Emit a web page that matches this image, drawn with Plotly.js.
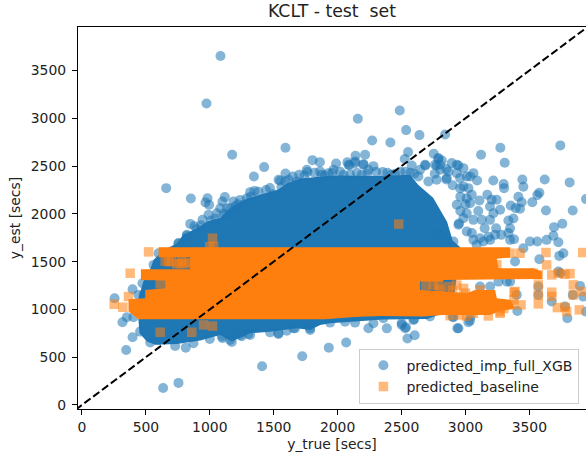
<!DOCTYPE html>
<html><head><meta charset="utf-8">
<script src="https://cdn.plot.ly/plotly-3.0.1.min.js"></script>
<style>html,body{margin:0;padding:0;background:#fff}#c{width:586px;height:459px}</style>
</head><body><div id="c"></div>
<script>
// Individually readable predicted_imp_full_XGB points [y_true, y_est]
const xgbPoints = [
[1084,3651],[974,3155],[1175,2618],[1592,2691],[1425,2489],[1345,2391],[1592,2422],[1550,2346],[659,2269],[852,2160],
[982,2164],[966,2118],[995,2094],[1118,2175],[1099,2129],[1185,2129],[1316,2227],[1350,2240],[990,1990],
[1055,2007],[1134,2059],[847,1895],[943,1937],[880,1870],[1238,2146],[1160,2059],[821,1780],[756,1693],[1499,2206],
[1616,2356],[1681,2338],[1290,2164],[1082,2059],[1264,2094],[1538,2356],
[900,1840],[930,1880],[1010,1930],[1045,1950],[1110,2000],[1130,1990],[1200,2080],[1220,2100],[1320,2180],[1380,2230],
[1440,2250],[1470,2270],[1560,2280],[1590,2340],[1650,2390],[1700,2410],[1740,2400],[1820,2430],[1900,2400],[1960,2430],
[2020,2440],[2150,2430],[2230,2420],[2300,2440],[2390,2430],[2450,2420],[2530,2440],[2570,2430],
[2158,2995],[2486,3082],[2536,2876],[2640,2824],[2270,2768],[2413,2747],[2841,2831],[2551,2646],[2525,2573],[2752,2629],
[3122,2618],[3273,2691],[3307,2534],[3742,2716],[1803,2562],[1861,2541],[1988,2527],[2140,2608],[2215,2618],[2077,2541],
[2093,2506],[2137,2531],[2202,2520],[2280,2499],[2353,2437],[1764,2437],[1876,2409],[1928,2426],[2098,2409],[2241,2461],
[2580,2506],[2687,2506],[2645,2461],[2775,2506],[2788,2573],[2815,2559],[2893,2531],[2945,2506],[2984,2478],[3062,2426],
[3036,2391],[3091,2349],[2710,2339],[3218,2349],[3299,2311],[3302,2269],[3445,2360],[3453,2283],[3620,2360],[3815,2329],
[3578,2220],[3562,2196],[3414,2178],[3440,2122],[3523,2122],[3354,2088],[3393,2060],[3427,2053],[3630,2035],[3839,2035],
[3943,2154],[3171,2199],[3109,2140],[3036,2112],[3205,2147],[3244,2147],[3192,2077],[3271,2042],[3219,2007],[3375,1952],
[3336,1931],[3758,1896],[3693,1861],[3349,1850],[2984,2287],[3023,2269],[3049,2199],[2958,2374],[2867,2444],[2850,2360],
[3010,2007],[3062,1937],[3128,1937],[3192,1937],[2900,2300],[2960,2180],[3000,2100],[2960,2030],[3100,2030],[3150,1850],
[3240,1850],[3280,1780],[3050,1800],[3180,1760],[2950,1900],[2760,2420],[2850,2470],[2600,2420],[2490,2440],[2420,2410],
[1759,2461],[2085,2513],[2137,2548],[2202,2513],[1863,2444],[1968,2461],[2046,2409],[2189,2409],[2684,2513],[2762,2513],
[2802,2513],[2632,2391],[2775,2356],[2854,2374],[2932,2426],[3010,2391],[2958,2269],[3010,2164],[2932,2095],[2984,1955],
[2945,1885],[3010,1815],[2854,1693],[2906,1711],[2788,1798],[2802,2461],[2932,2513],[2788,2583],
[255,1117],[317,866],[396,1211],[396,709],[346,576],[635,178],[755,231],[1409,405],[1723,510],[351,918],
[403,918],[455,768],[534,653],[729,618],[812,600],[872,646],[442,1152],[482,1152],[474,1274],[520,1270],[560,1466],[755,1693],
[820,1770],[599,1588],[1159,681],[1302,744],[1537,750],[1654,803],[1000,690],[1100,700],[1250,720],[600,680],
[1094,716],[1172,660],[1237,733],[1316,733],[1472,760],[1537,744],[1602,778],[1667,802],[1785,785],
[3388,1501],[3578,1525],[3505,1710],[3562,1710],[3635,1728],[3727,1703],[3688,1770],[3766,1588],[3734,1560],[3349,1728],
[3380,1735],[3336,1800],[3896,1246],[3840,1152],[3745,1379],[3401,1152],[3406,984],[3675,1082],[3570,1239],[3797,908],
[2945,803],[3036,883],[3040,925],[2906,918],[2546,695],[2603,730],[2241,803],[2280,855],[2385,802],[2502,838],
[2528,803],[2067,653],[1931,600],[1785,803],[1941,862],[2058,872],[2136,862],[2358,907],[2501,855],[2535,813],[2598,897],
[2723,925],[2593,890],[2900,924],[2937,802],[3023,866],
[3453,1640],[3193,1728],[3232,1780],[3114,1745],[3140,1710],[3062,1728],[3088,1675],[3114,1239],[3193,1239],[3258,1291],
[3323,1291],[3349,1291],[3779,1030],[3943,977],[3922,1134],[3727,1396],[3570,1152]
];
const xgbX = xgbPoints.map(p => p[0]);
const xgbY = xgbPoints.map(p => p[1]);

// Outline of the region where the XGB points overplot to solid colour
const xgbMassX = [442,450,508,573,742,925,1081,1172,1316,1472,1680,1785,1863,1941,2356,2700,2900,2960,2900,2856,2747,2630,2567,2332,1965,1707,1607,1527,1418,1293,1160,1082,980,902,792,742,640,560,534,480,442];
const xgbMassY = [890,751,664,629,639,674,733,663,750,767,802,785,837,855,895,900,1000,1650,1720,1916,2168,2304,2408,2395,2400,2370,2320,2250,2210,2160,2063,1958,1920,1853,1780,1693,1620,1519,1421,1290,1120];

// Individually readable predicted_baseline points [y_true, y_est]
const basePoints = [
[521,1602],[377,1379],[364,1135],[252,1054],[320,1023],[612,761],[859,761],[951,838],[1021,826],[1021,1745],
[1000,1655],[1030,1660],[677,1501],[651,1505],[700,1500],[742,1477],[770,1480],[780,1500],[807,1477],[840,1490],[612,1267],[2478,1892],
[3630,1595],[3917,1595],[3635,1466],[3427,1588],[3349,1588],[3245,1466],[3531,1379],[3570,1361],[3675,1361],[3727,1379],
[3779,1368],[3818,1375],[3570,1257],[3844,1257],[3388,1187],[3675,1180],[3675,1135],[3570,1152],[3844,1152],[3917,1187],
[3570,1058],[3435,1047],[3362,1047],[3719,1019],[3779,1023],[3792,977],[3891,995],[3179,932],[3271,977],[2958,942],
[3062,960],[3114,1204],[3300,1010],[3271,960],[3380,1180],[3380,1100],[3010,930],[2880,935],
[2750,1255],[2790,1250],[2865,1240],[2932,1255],[2985,1220],[2690,1250],[2800,1210],[2900,1200],[3000,1170]
];
const baseX = basePoints.map(p => p[0]);
const baseY = basePoints.map(p => p[1]);

// Outline of the region where the baseline points overplot to solid colour
const baseMassX = [599,3349,3349,3245,3258,3531,3597,3597,2828,2825,2645,2645,2828,3010,3075,3232,3245,3349,3388,3271,3193,2828,2671,2330,2130,1900,442,364,364,495,495,651,651,461,461,846,846,599];
const baseMassY = [1651,1651,1543,1529,1431,1431,1396,1319,1309,1291,1291,1204,1190,1169,1204,1204,1117,1100,1012,984,942,942,925,930,920,897,897,978,1107,1117,1204,1222,1302,1309,1421,1421,1546,1546];

const diagonal = [-50, 4000];
const xTicks = [0,500,1000,1500,2000,2500,3000,3500];
const yTicks = [0,500,1000,1500,2000,2500,3000,3500];

const blue = '#1f77b4', orange = '#ff7f0e';
const font = {family:'"DejaVu Sans", sans-serif', size:13.9, color:'#222'};
const mass = (x,y,c) => ({x,y,type:'scatter',mode:'lines',fill:'toself',fillcolor:c,line:{width:0},showlegend:false,hoverinfo:'skip'});

const traces = [
  mass(xgbMassX,xgbMassY,blue),
  {x:xgbX,y:xgbY,type:'scatter',mode:'markers',name:'predicted_imp_full_XGB',
   marker:{color:blue,size:10,symbol:'circle',opacity:0.55,line:{width:0}}},
  mass(baseMassX,baseMassY,orange),
  {x:baseX,y:baseY,type:'scatter',mode:'markers',name:'predicted_baseline',
   marker:{color:orange,size:9.5,symbol:'square',opacity:0.55,line:{width:0}}},
  {x:diagonal,y:diagonal,type:'scatter',mode:'lines',showlegend:false,hoverinfo:'skip',
   line:{color:'#000',width:2,dash:'7.7px,3.3px'}}
];
const axis = {showgrid:false,zeroline:false,showline:true,linecolor:'#000',linewidth:1.1,
  ticks:'outside',ticklen:5,tickwidth:1,tickcolor:'#000',tickfont:font};
const layout = {
  width:586,height:459,paper_bgcolor:'#fff',plot_bgcolor:'#fff',font,
  margin:{l:77.7,r:0,t:27.3,b:50},
  title:{text:'KCLT - test \u00a0set',font:{family:font.family,size:17.3,color:'#222'},x:332/586,xanchor:'center',y:1-17/459,yanchor:'bottom',yref:'container'},
  xaxis:{...axis,range:[-31,3943],tickvals:xTicks,mirror:true,title:{text:'y_true [secs]',font,standoff:5}},
  yaxis:{...axis,range:[-42,3955],tickvals:yTicks,ticklabelstandoff:3,title:{text:'y_est [secs]',font,standoff:6}},
  showlegend:true,
  legend:{x:0.554,y:0.158,xanchor:'left',yanchor:'top',bgcolor:'rgba(255,255,255,0.8)',bordercolor:'#ccc',borderwidth:1,
    font:{...font,size:14.05},itemsizing:'trace',itemwidth:36,entrywidth:175,entrywidthmode:'pixels',tracegroupgap:0}
};
Plotly.newPlot('c',traces,layout,{displayModeBar:false,staticPlot:true});
</script></body></html>
